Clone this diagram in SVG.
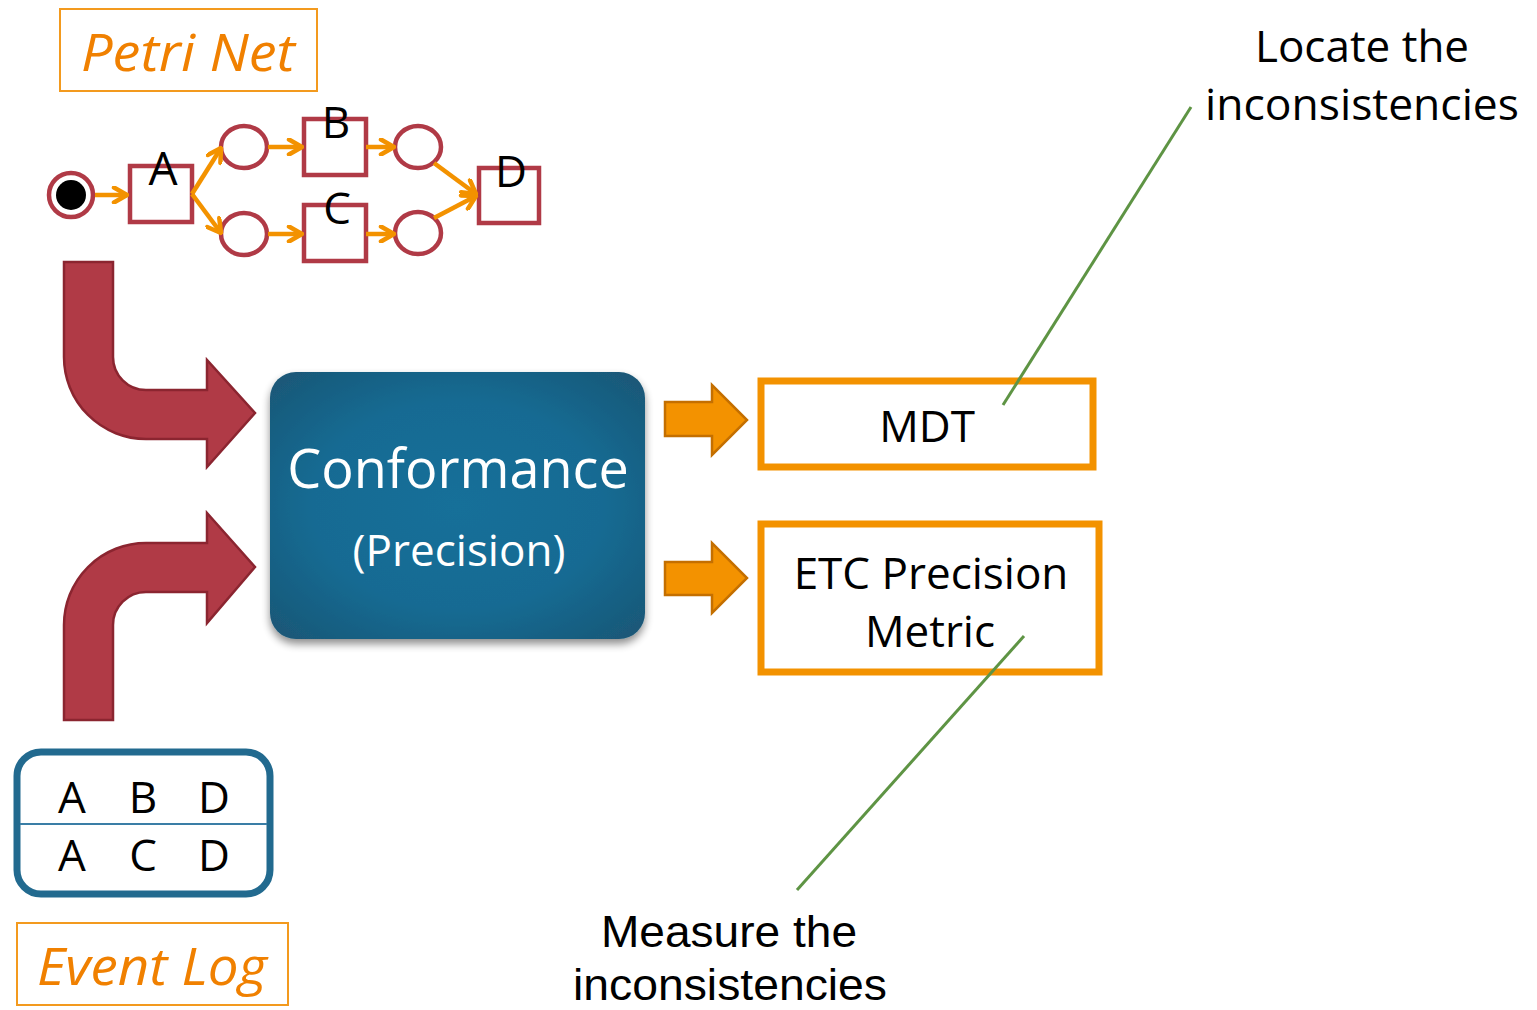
<svg xmlns="http://www.w3.org/2000/svg" width="1537" height="1010" viewBox="0 0 1537 1010">
<defs>
<style>
.t{font-family:"Open Sans","DejaVu Sans",sans-serif;fill:#000;text-anchor:middle}
.tn{font-family:"Liberation Sans","DejaVu Sans",sans-serif;fill:#000;text-anchor:middle}
.lab{font-family:"Open Sans","DejaVu Sans",sans-serif;fill:#F08000;font-style:italic;text-anchor:middle}
.labbox{fill:#fff;stroke:#F39A1E;stroke-width:2}
.place{fill:#fff;stroke:#B03A46;stroke-width:4.5}
.trans{fill:#fff;stroke:#B03A46;stroke-width:4.5}
.arc{stroke:#F39200;stroke-width:4.5;fill:none;marker-end:url(#chev)}
.red{fill:#B03A46;stroke:#8B2530;stroke-width:2.5;stroke-linejoin:miter}
.org{fill:#F39200;stroke:#C46F00;stroke-width:2.5}
.obox{fill:#fff;stroke:#F39200;stroke-width:7}
.green{stroke:#5E9444;stroke-width:3;fill:none}
</style>
<marker id="chev" viewBox="0 0 18 18" refX="16" refY="9" markerWidth="18" markerHeight="18" markerUnits="userSpaceOnUse" orient="auto">
<path d="M3,1.5 L16,9 L3,16.5" fill="none" stroke="#F39200" stroke-width="4.5" stroke-linecap="round" stroke-linejoin="round"/>
</marker>
<radialGradient id="cg" cx="0.5" cy="0.5" r="0.7">
<stop offset="0" stop-color="#126F99"/>
<stop offset="0.55" stop-color="#146B93"/>
<stop offset="1" stop-color="#1B5675"/>
</radialGradient>
<filter id="sh" x="-10%" y="-10%" width="120%" height="130%">
<feGaussianBlur in="SourceAlpha" stdDeviation="4"/>
<feOffset dx="0" dy="5" result="b"/>
<feComponentTransfer><feFuncA type="linear" slope="0.45"/></feComponentTransfer>
<feMerge><feMergeNode/><feMergeNode in="SourceGraphic"/></feMerge>
</filter>
</defs>
<rect width="1537" height="1010" fill="#fff"/>

<g id="petri-label">
<rect class="labbox" x="60" y="9" width="257" height="82"/>
<text class="lab" x="188" y="71" font-size="51" textLength="214" lengthAdjust="spacingAndGlyphs">Petri Net</text>
</g>

<g id="petri-net">
<g id="p-start"><circle class="place" cx="71" cy="195" r="22"/><circle cx="71" cy="195" r="15" fill="#000"/></g>
<g id="t-A"><rect class="trans" x="130" y="166" width="62" height="56"/><text class="t" x="163" y="185" font-size="46">A</text></g>
<g id="p-1"><ellipse class="place" cx="244" cy="147" rx="23" ry="21"/></g>
<g id="p-2"><ellipse class="place" cx="244" cy="234" rx="23" ry="21"/></g>
<g id="t-B"><rect class="trans" x="304" y="119" width="62" height="56"/><text class="t" x="336" y="138" font-size="44">B</text></g>
<g id="t-C"><rect class="trans" x="304" y="205" width="62" height="56"/><text class="t" x="337" y="224" font-size="44">C</text></g>
<g id="p-3"><ellipse class="place" cx="418" cy="147" rx="23" ry="21"/></g>
<g id="p-4"><ellipse class="place" cx="418" cy="233" rx="23" ry="21"/></g>
<g id="t-D"><rect class="trans" x="479" y="168" width="60" height="55"/><text class="t" x="511" y="187" font-size="44">D</text></g>
</g>

<g id="conformance">
<rect x="270" y="372" width="375" height="267" rx="26" fill="url(#cg)" filter="url(#sh)"/>
<text class="t" x="458" y="488" font-size="54" style="fill:#fff">Conformance</text>
<text class="t" x="459" y="566" font-size="44" style="fill:#fff">(Precision)</text>
</g>

<g id="mdt">
<rect class="obox" x="761" y="381" width="332" height="86"/>
<text class="t" x="927" y="442" font-size="44">MDT</text>
</g>

<g id="etc">
<rect class="obox" x="761" y="524" width="338" height="148"/>
<text class="t" x="931" y="589" font-size="44">ETC Precision</text>
<text class="t" x="930" y="647" font-size="44">Metric</text>
</g>

<g id="locate-note">
<text class="t" x="1362" y="62" font-size="44">Locate the</text>
<text class="t" x="1362" y="120" font-size="44" textLength="314" lengthAdjust="spacingAndGlyphs">inconsistencies</text>
</g>

<g id="measure-note">
<text class="tn" x="729" y="947" font-size="44" textLength="256" lengthAdjust="spacingAndGlyphs">Measure the</text>
<text class="tn" x="730" y="1000" font-size="44" textLength="314" lengthAdjust="spacingAndGlyphs">inconsistencies</text>
</g>

<g id="event-log">
<rect x="17" y="752" width="253" height="142" rx="24" fill="#fff" stroke="#226A8F" stroke-width="7"/>
<line x1="20" y1="824" x2="267" y2="824" stroke="#3A7EA6" stroke-width="2"/>
<text class="t" x="72" y="813" font-size="44">A</text>
<text class="t" x="143" y="813" font-size="44">B</text>
<text class="t" x="214" y="813" font-size="44">D</text>
<text class="t" x="72" y="871" font-size="44">A</text>
<text class="t" x="143" y="871" font-size="44">C</text>
<text class="t" x="214" y="871" font-size="44">D</text>
</g>

<g id="event-log-label">
<rect class="labbox" x="17" y="923" width="271" height="82"/>
<text class="lab" x="152" y="985" font-size="51" textLength="230" lengthAdjust="spacingAndGlyphs">Event Log</text>
</g>

<g id="connectors">
<line class="arc" x1="95" y1="195" x2="127" y2="195"/>
<line class="arc" x1="192" y1="194" x2="221" y2="148"/>
<line class="arc" x1="192" y1="194" x2="221" y2="233"/>
<line class="arc" x1="268" y1="147" x2="302" y2="147"/>
<line class="arc" x1="268" y1="234" x2="302" y2="234"/>
<line class="arc" x1="366" y1="147" x2="394" y2="147"/>
<line class="arc" x1="366" y1="234" x2="394" y2="234"/>
<line class="arc" x1="434" y1="163" x2="476" y2="194"/>
<line class="arc" x1="434" y1="218" x2="476" y2="196"/>
<path id="arrow-net" class="red" d="M64,262 L64,357 A82,82 0 0 0 146,439 L207,439 L207,467 L255,413 L207,360 L207,390 L146,390 A33,33 0 0 1 113,357 L113,262 Z"/>
<path id="arrow-log" class="red" d="M64,720 L64,625 A82,82 0 0 1 146,543 L207,543 L207,513 L255,567 L207,623 L207,592 L146,592 A33,33 0 0 0 113,625 L113,720 Z"/>
<path id="arrow-mdt" class="org" d="M665,402 L712,402 L712,385 L747,420 L712,455 L712,436 L665,436 Z"/>
<path id="arrow-etc" class="org" d="M665,562 L712,562 L712,543 L747,578 L712,613 L712,595 L665,595 Z"/>
<line class="green" x1="1003" y1="405" x2="1191" y2="107"/>
<line class="green" x1="1024" y1="636" x2="797" y2="890"/>
</g>
</svg>
